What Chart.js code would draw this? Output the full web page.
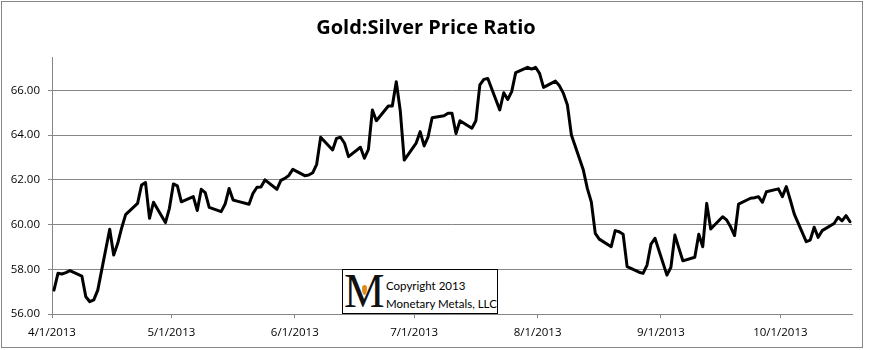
<!DOCTYPE html>
<html>
<head>
<meta charset="utf-8">
<script src="https://cdn.jsdelivr.net/npm/chart.js@4/dist/chart.umd.min.js"></script>
<style>
  body { margin: 0; background: #fff; }
  #wrap { position: relative; width: 869px; height: 350px; }
  #frame { position: absolute; left: 1px; top: 1px; width: 860px; height: 345px; border: 1px solid #868686; pointer-events: none; }
  #logo { position: absolute; left: 342px; top: 269px; width: 154px; height: 43px; border: 1px solid #000; background: #fff; overflow: hidden; }
  #logo .m { position: absolute; left: 1px; top: -7px; font: 48px 'Liberation Serif', serif; color: #111; transform: scaleX(0.95); transform-origin: left; }
  #logo .gem { position: absolute; left: 19px; top: 15px; width: 5px; height: 10px; background: #e08a1e; border-radius: 50% 50% 50% 50% / 30% 30% 70% 70%; }
  #logo .txt { position: absolute; left: 43px; top: 7px; font: 11.5px Lato, sans-serif; line-height: 18px; color: #000; white-space: nowrap; }
</style>
</head>
<body>
<div id="wrap">
  <canvas id="chart" width="869" height="350"></canvas>
  <div id="frame"></div>
  <div id="logo">
    <span class="m">M</span><span class="gem"></span>
    <div class="txt">Copyright 2013<br>Monetary Metals, LLC</div>
  </div>
</div>
<script>
// gold:silver ratio, trading days 2013
const dates = [
  '4/1','4/2','4/3','4/4','4/5','4/8','4/9','4/10','4/11','4/12',
  '4/15','4/16','4/17','4/18','4/19','4/22','4/23','4/24','4/25','4/26',
  '4/29','4/30','5/1','5/2','5/3','5/6','5/7','5/8','5/9','5/10',
  '5/13','5/14','5/15','5/16','5/17','5/20','5/21','5/22','5/23','5/24',
  '5/27','5/28','5/29','5/30','5/31','6/3','6/4','6/5','6/6','6/7',
  '6/10','6/11','6/12','6/13','6/14','6/17','6/18','6/19','6/20','6/21',
  '6/24','6/25','6/26','6/27','6/28','7/1','7/2','7/3','7/4','7/5',
  '7/8','7/9','7/10','7/11','7/12','7/15','7/16','7/17','7/18','7/19',
  '7/22','7/23','7/24','7/25','7/26','7/29','7/30','7/31','8/1','8/2',
  '8/5','8/6','8/7','8/8','8/9','8/12','8/13','8/14','8/15','8/16',
  '8/19','8/20','8/21','8/22','8/23','8/26','8/27','8/28','8/29','8/30',
  '9/2','9/3','9/4','9/5','9/6','9/9','9/10','9/11','9/12','9/13',
  '9/16','9/17','9/18','9/19','9/20','9/23','9/24','9/25','9/26','9/27',
  '9/30','10/1','10/2','10/3','10/4','10/7','10/8','10/9','10/10','10/11',
  '10/14','10/15','10/16','10/17','10/18'
];
const ratio = [
  57.07,57.82,57.79,57.85,57.94,57.70,56.77,56.55,56.63,57.07,
  59.79,58.64,59.15,59.85,60.45,60.95,61.77,61.88,60.28,61.00,
  60.09,60.73,61.82,61.73,61.02,61.25,60.63,61.58,61.43,60.77,
  60.58,60.92,61.62,61.10,61.05,60.91,61.40,61.67,61.68,62.00,
  61.58,61.98,62.07,62.20,62.47,62.19,62.22,62.32,62.70,63.91,
  63.34,63.86,63.91,63.64,63.04,63.46,62.97,63.37,65.13,64.65,
  65.31,65.31,66.39,65.10,62.89,63.65,64.16,63.52,63.93,64.78,
  64.87,64.98,64.98,64.08,64.65,64.31,64.65,66.25,66.50,66.54,
  65.13,65.90,65.60,65.95,66.80,67.04,66.96,67.04,66.77,66.14,
  66.42,66.21,65.87,65.35,64.01,62.44,61.62,61.02,59.61,59.35,
  59.01,59.73,59.68,59.57,58.12,57.87,57.82,58.19,59.13,59.39,
  57.74,58.09,59.53,58.95,58.38,58.54,59.57,59.01,60.95,59.80,
  60.35,60.21,59.90,59.51,60.92,61.18,61.20,61.25,61.00,61.47,
  61.60,61.25,61.70,61.10,60.47,59.24,59.31,59.88,59.43,59.73,
  60.05,60.33,60.17,60.40,60.13
];
const tickDates = ['4/1/2013','5/1/2013','6/1/2013','7/1/2013','8/1/2013','9/1/2013','10/1/2013'];
const yTicks = [56, 58, 60, 62, 64, 66];

const start = Date.UTC(2013, 3, 1);
const dayOf = s => {
  const p = s.split('/');
  return (Date.UTC(2013, p[0] - 1, p[1]) - start) / 86400000;
};

// excel date axis: each point sits in the middle of its day
const points = dates.map((d, i) => ({ x: dayOf(d) + 0.5, y: ratio[i] }));
const gridGray = '#868686';
const lblFont = { family: 'Open Sans', size: 11.5 };

new Chart(document.getElementById('chart'), {
  type: 'line',
  data: {
    datasets: [{
      data: points,
      borderColor: '#000',
      borderWidth: 3,
      pointRadius: 0,
      tension: 0,
      borderJoinStyle: 'round',
      borderCapStyle: 'round'
    }]
  },
  options: {
    responsive: false,
    animation: false,
    devicePixelRatio: 1,
    layout: { padding: { left: 0, right: 17, top: 0, bottom: 0 } },
    plugins: {
      legend: { display: false },
      tooltip: { enabled: false },
      title: {
        display: true,
        text: 'Gold:Silver Price Ratio',
        color: '#000',
        font: { family: 'Open Sans', size: 20, weight: 'bold' },
        padding: { top: 16, bottom: 17 }
      }
    },
    scales: {
      x: {
        type: 'linear',
        min: 0,
        max: 201,
        afterBuildTicks: ax => { ax.ticks = tickDates.map(t => ({ value: dayOf(t) })); },
        afterFit: ax => { ax.height = 36; },
        ticks: {
          color: '#000',
          font: lblFont,
          padding: 8,
          maxRotation: 0,
          autoSkip: false,
          callback: (v, i) => tickDates[i]
        },
        grid: { drawOnChartArea: false, drawTicks: true, tickLength: 4, color: gridGray },
        border: { color: gridGray }
      },
      y: {
        min: 56,
        max: 67.5,
        afterBuildTicks: ax => { ax.ticks = yTicks.map(v => ({ value: v })); },
        afterFit: ax => { ax.width = 52; },
        ticks: {
          color: '#000',
          font: lblFont,
          padding: 8,
          callback: v => v.toFixed(2)
        },
        grid: { color: gridGray, tickLength: 4 },
        border: { color: gridGray }
      }
    }
  }
});
</script>
</body>
</html>
